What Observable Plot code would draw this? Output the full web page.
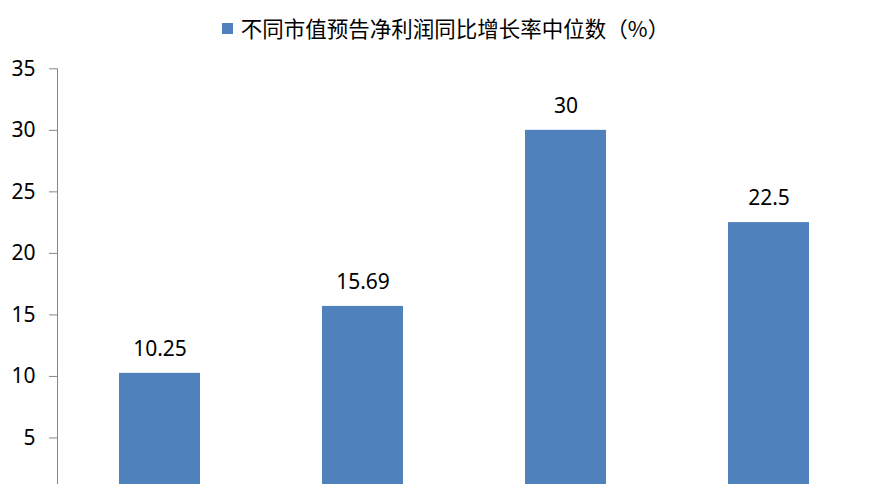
<!DOCTYPE html>
<html>
<head>
<meta charset="utf-8">
<script src="https://cdn.jsdelivr.net/npm/d3@7"></script>
<script src="https://cdn.jsdelivr.net/npm/@observablehq/plot@0.6"></script>
<style>
  html, body { margin: 0; padding: 0; background: #fff; overflow: hidden; }
  #legend { height: 46px; padding-top: 8px; display: flex; justify-content: center; align-items: center;
            font-family: "Noto Sans CJK SC", sans-serif; font-size: 21.5px; color: #000; padding-left: 6px; box-sizing: border-box; }
  #legend .sw { width: 11px; height: 11px; background: #4F81BD; margin-right: 8px; margin-top: 2px; }
</style>
</head>
<body>
<div id="legend"><span class="sw"></span><span id="legendText"></span></div>
<div id="chart"></div>
<script>
const seriesName = "不同市值预告净利润同比增长率中位数（%）";
const categories = ["组1", "组2", "组3", "组4"];
const values = [10.25, 15.69, 30, 22.5];
const yTicks = [5, 10, 15, 20, 25, 30, 35];

document.getElementById("legendText").textContent = seriesName;

const data = categories.map((c, i) => ({category: c, value: values[i]}));

const W = 885, H = 438;
const chart = Plot.plot({
  width: W,
  height: H,
  marginLeft: 57,
  marginRight: 14,
  marginTop: 22.3,
  marginBottom: 0,
  style: {fontFamily: "'Noto Sans', sans-serif", fontSize: "21px", color: "#000", background: "#fff"},
  x: {domain: categories, paddingInner: 0.602, paddingOuter: 0.301, axis: null},
  y: {domain: [0, 35], range: [453, 22.3], ticks: yTicks, axis: null},
  marks: [
    Plot.barY(data, {x: "category", y: "value", fill: "#4F81BD", clip: true}),
    Plot.frame({anchor: "left", stroke: "#868686"}),
    Plot.axisY({ticks: yTicks, label: null, tickSize: 8, tickPadding: 14, stroke: "#868686", fill: "#000", fontSize: 21}),
    Plot.text(data, {x: "category", y: "value", text: d => String(d.value), dy: -24, fill: "#000", fontSize: 21})
  ]
});
document.getElementById("chart").appendChild(chart);
</script>
</body>
</html>
